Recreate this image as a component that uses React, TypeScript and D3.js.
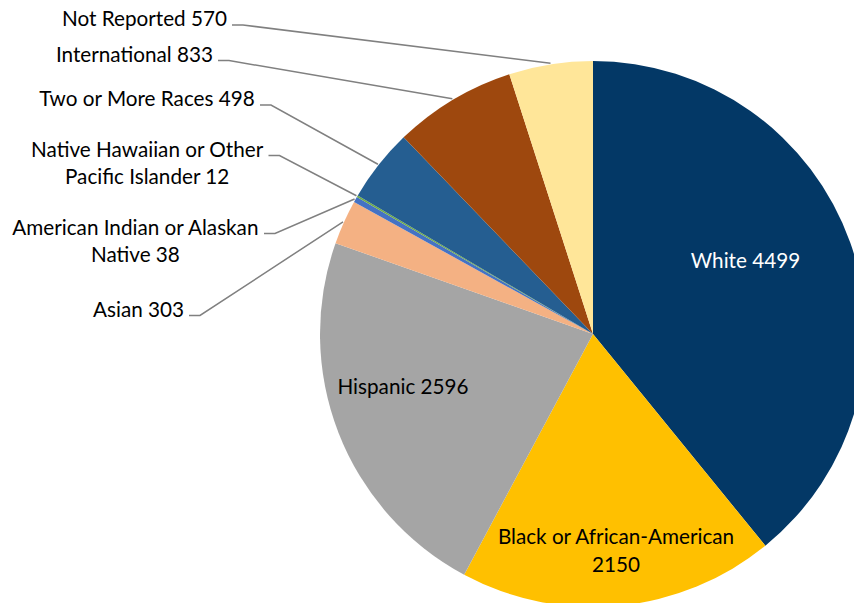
import React from "react";
import * as d3 from "d3";

const categories = [
  "White",
  "Black or African-American",
  "Hispanic",
  "Asian",
  "American Indian or Alaskan Native",
  "Native Hawaiian or Other Pacific Islander",
  "Two or More Races",
  "International",
  "Not Reported",
];
const values = [4499, 2150, 2596, 303, 38, 12, 498, 833, 570];
const colors = [
  "#033866",
  "#FFC000",
  "#A5A5A5",
  "#F4B183",
  "#4472C4",
  "#70AD47",
  "#255E91",
  "#9E480E",
  "#FFE699",
];

// label text lines (label text = category + value, wrapped as in the reference)
const labelLines: string[][] = [
  ["White 4499"],
  ["Black or African-American", "2150"],
  ["Hispanic 2596"],
  ["Asian 303"],
  ["American Indian or Alaskan", "Native 38"],
  ["Native Hawaiian or Other", "Pacific Islander 12"],
  ["Two or More Races 498"],
  ["International 833"],
  ["Not Reported 570"],
];

// layout: inside labels (center x, first baseline) and outside labels (right edge x of first line, first baseline)
type Layout = { inside: boolean; x: number; y: number; color?: string };
const layout: Layout[] = [
  { inside: true, x: 745.5, y: 267.5, color: "#ffffff" },
  { inside: true, x: 616, y: 544 },
  { inside: true, x: 403, y: 394 },
  { inside: false, x: 184, y: 316.5 },
  { inside: false, x: 259, y: 234.5 },
  { inside: false, x: 263.5, y: 156.5 },
  { inside: false, x: 255, y: 106 },
  { inside: false, x: 213, y: 61.5 },
  { inside: false, x: 227, y: 26 },
];

const W = 854;
const H = 603;
const CX = 593;
const CY = 334;
const R = 273;
const FONT = "Lato, 'Noto Sans', sans-serif";
const FS = 20.7;
const LH = 27.5;

export default function App() {
  const pie = d3
    .pie<number>()
    .sort(null)
    .value((d) => d)
    .startAngle(0)
    .endAngle(2 * Math.PI);
  const arcs = pie(values);
  const arc = d3.arc<d3.PieArcDatum<number>>().innerRadius(0).outerRadius(R);

  // measure approximate text width for centering multi-line outside labels
  const measure = (s: string) => {
    if (typeof document === "undefined") return s.length * FS * 0.5;
    const c = document.createElement("canvas").getContext("2d")!;
    c.font = `${FS}px Lato`;
    return c.measureText(s).width;
  };

  return (
    <svg
      width={W}
      height={H}
      style={{ position: "absolute", left: 0, top: 0, background: "#fff" }}
      fontFamily={FONT}
      fontSize={FS}
    >
      <g transform={`translate(${CX},${CY})`}>
        {arcs.map((a, i) => (
          <path key={i} d={arc(a) || ""} fill={colors[i]} />
        ))}
      </g>
      {arcs.map((a, i) => {
        const L = layout[i];
        const lines = labelLines[i];
        if (L.inside) {
          return (
            <text key={"t" + i} textAnchor="middle" fill={L.color || "#000"}>
              {lines.map((s, k) => (
                <tspan key={k} x={L.x} y={L.y + k * LH}>
                  {s}
                </tspan>
              ))}
            </text>
          );
        }
        const mid = (a.startAngle + a.endAngle) / 2;
        const ex = CX + (R + 1) * Math.sin(mid);
        const ey = CY - (R + 1) * Math.cos(mid);
        const w0 = measure(lines[0]);
        const centerX = L.x - w0 / 2;
        const lx0 = L.x + 5;
        const ly = L.y - 1;
        const lx1 = lx0 + 11;
        return (
          <g key={"o" + i}>
            <polyline
              points={`${lx0},${ly} ${lx1},${ly} ${ex},${ey}`}
              fill="none"
              stroke="#808080"
              strokeWidth={1.5}
            />
            <text textAnchor="middle" fill="#000">
              {lines.map((s, k) => (
                <tspan key={k} x={centerX} y={L.y + k * LH}>
                  {s}
                </tspan>
              ))}
            </text>
          </g>
        );
      })}
    </svg>
  );
}
